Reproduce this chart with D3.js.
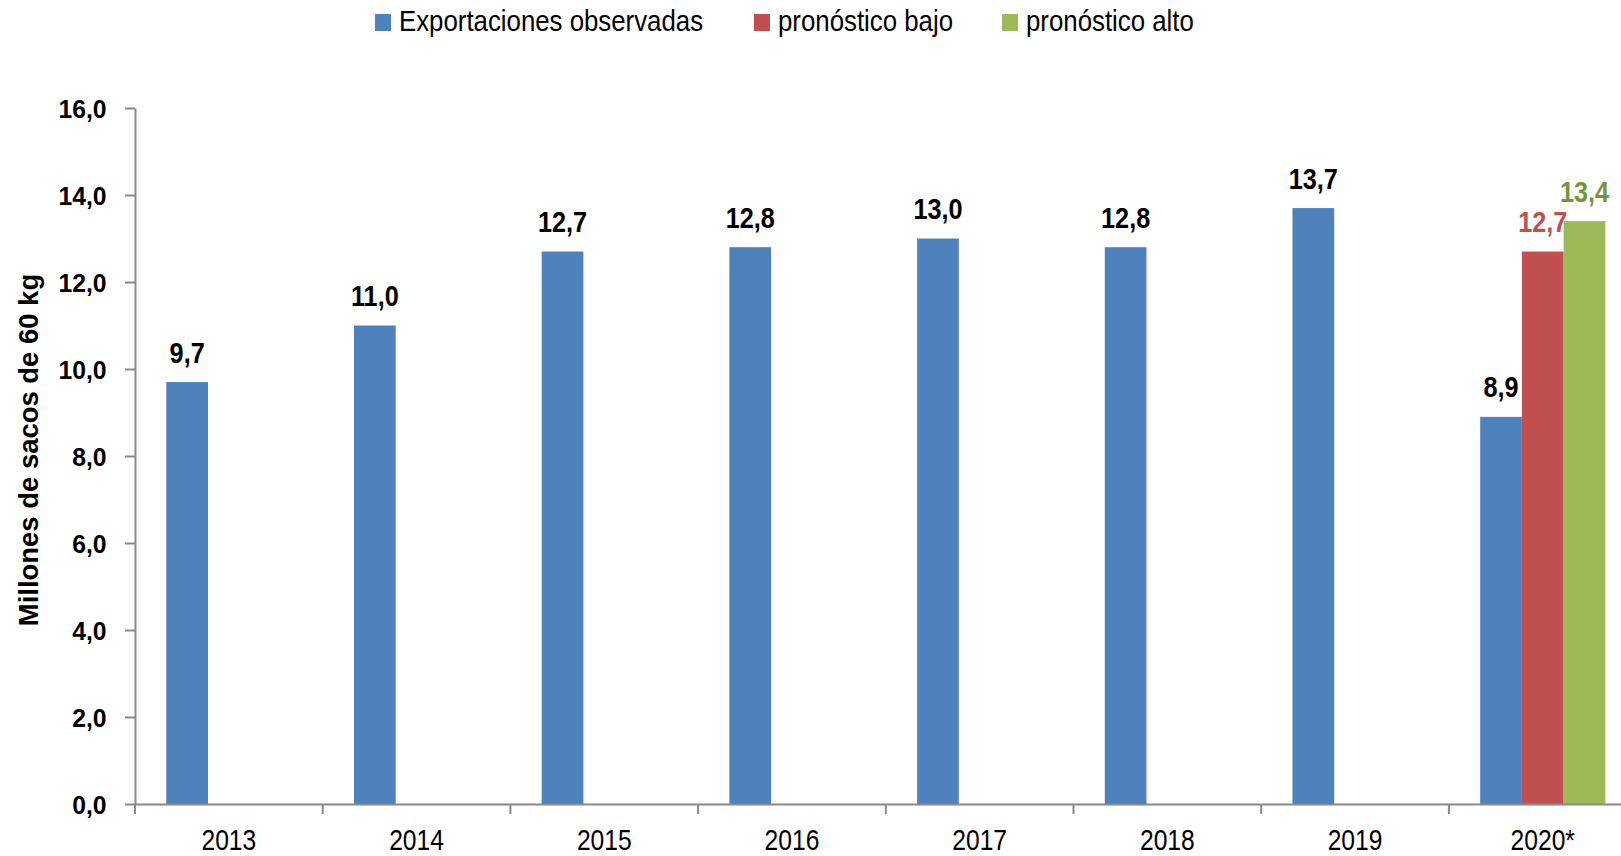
<!DOCTYPE html>
<html><head><meta charset="utf-8">
<script src="https://cdn.jsdelivr.net/npm/d3@7"></script>
<style>
html,body{margin:0;padding:0;background:#fff;overflow:hidden}
text{font-family:"Liberation Sans",Arial,sans-serif}
</style></head>
<body>
<svg id="c" width="1621" height="856"></svg>
<script>
const categories = ["2013","2014","2015","2016","2017","2018","2019","2020*"];
const observed = [9.7, 11.0, 12.7, 12.8, 13.0, 12.8, 13.7, 8.9];
const forecastLow = [null, null, null, null, null, null, null, 12.7];
const forecastHigh = [null, null, null, null, null, null, null, 13.4];
const seriesNames = ["Exportaciones observadas", "pronóstico bajo", "pronóstico alto"];
const yTicks = [0, 2, 4, 6, 8, 10, 12, 14, 16];
const yTitle = "Millones de sacos de 60 kg";

const colors = ["#4F81BD", "#C0504D", "#9BBB59"];
const labelColors = ["#000000", "#C0504D", "#77933C"];
const series = [observed, forecastLow, forecastHigh];

// horizontally condense text (reference uses a narrow face)
function condense(sel, k) {
  sel.each(function() {
    const w = this.getComputedTextLength();
    d3.select(this).attr("textLength", w * k).attr("lengthAdjust", "spacingAndGlyphs");
  });
}

const svg = d3.select("#c");
const mLeft = 135, mTop = 108, mBottom = 804;
const band = 187.7;
const x = d3.scaleBand().domain(categories).range([mLeft, mLeft + band * categories.length]).paddingInner(0).paddingOuter(0);
const barW = x.bandwidth() / 4.5;
const xs = d3.scaleBand().domain([0,1,2]).range([barW*0.75, barW*3.75]);
const y = d3.scaleLinear().domain([0, 16]).range([mBottom, mTop]);
const fmt = v => v.toFixed(1).replace(".", ",");

// bars
series.forEach((vals, si) => {
  const g = svg.append("g");
  const d = categories.map((c, i) => ({c, v: vals[i]})).filter(o => o.v != null);
  g.selectAll("rect").data(d).join("rect")
    .attr("x", o => x(o.c) + xs(si))
    .attr("width", xs.bandwidth())
    .attr("y", o => y(o.v))
    .attr("height", o => mBottom - y(o.v))
    .attr("fill", colors[si]);
  g.selectAll("text").data(d).join("text")
    .attr("x", o => x(o.c) + xs(si) + xs.bandwidth()/2)
    .attr("y", o => y(o.v) - 19.5)
    .attr("text-anchor", "middle")
    .attr("font-size", 29).attr("font-weight", "bold")
    .attr("fill", labelColors[si])
    .text(o => fmt(o.v))
    .call(condense, 0.87);
});

// y axis
const yAxis = d3.axisLeft(y).tickValues(yTicks).tickSize(10).tickSizeOuter(0).tickFormat(fmt);
const ya = svg.append("g").attr("transform", `translate(${mLeft},0)`).call(yAxis);
ya.select(".domain").attr("stroke", "#898989").attr("stroke-width", 2);
ya.selectAll(".tick line").attr("stroke", "#898989").attr("stroke-width", 2);
ya.selectAll(".tick text").attr("font-size", 26).attr("font-weight", "bold").attr("fill", "#000")
  .attr("x", -28.5).attr("dy", "0.38em")
  .style("font-family", '"Liberation Sans",Arial,sans-serif')
  .call(condense, 0.95);

// x axis
const xa = svg.append("g").attr("transform", `translate(0,${mBottom})`)
  .call(d3.axisBottom(x).tickSize(0).tickSizeOuter(0));
xa.select(".domain").attr("stroke", "#898989").attr("stroke-width", 2);
xa.selectAll(".tick text").attr("font-size", 30).attr("fill", "#000").attr("y", 46).attr("dy", 0)
  .style("font-family", '"Liberation Sans",Arial,sans-serif')
  .call(condense, 0.82);
// category separators
svg.append("g").selectAll("line").data(categories.map((c,i)=>i)).join("line")
  .attr("x1", i => mLeft + band * i).attr("x2", i => mLeft + band * i)
  .attr("y1", mBottom).attr("y2", mBottom + 10)
  .attr("stroke", "#898989").attr("stroke-width", 2);

// y title
svg.append("text")
  .attr("transform", `translate(38,450) rotate(-90)`)
  .attr("text-anchor", "middle")
  .attr("font-size", 28).attr("font-weight", "bold")
  .text(yTitle)
  .call(condense, 0.98);

// legend
const legX = [375, 754, 1002];
const leg = svg.append("g");
seriesNames.forEach((n, i) => {
  leg.append("rect").attr("x", legX[i]).attr("y", 14).attr("width", 16).attr("height", 17).attr("fill", colors[i]);
  leg.append("text").attr("x", legX[i] + 24).attr("y", 31).attr("font-size", 30).attr("fill", "#000").text(n)
    .call(condense, 0.86);
});
</script>
</body></html>
